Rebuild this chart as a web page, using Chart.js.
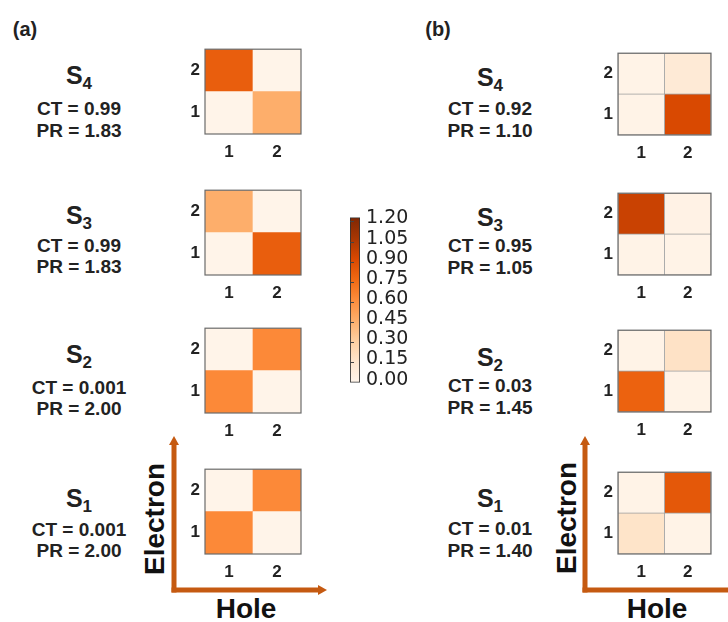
<!DOCTYPE html>
<html>
<head>
<meta charset="utf-8">
<script src="https://cdn.jsdelivr.net/npm/chart.js@4.4.1/dist/chart.umd.min.js"></script>
<style>
  body { margin: 0; background: #fff; }
  #fig { position: relative; width: 728px; height: 622px; overflow: hidden; background: #fff;
         font-family: "Liberation Sans", Arial, sans-serif; color: #222; }
  #fig canvas { position: absolute; }
  .txt { position: absolute; transform: translate(-50%, -50%); white-space: nowrap; font-weight: bold; line-height: 1; }
  .state { font-size: 25px; }
  .state sub { font-size: 17px; vertical-align: -5px; }
  .val { font-size: 19px; }
  .panel { font-size: 20px; }
  .axis { font-size: 28px; color: #111; }
  svg { position: absolute; left: 0; top: 0; }
</style>
</head>
<body>
<div id="fig">
  <svg width="728" height="622" id="arrows"></svg>
</div>
<script>
// categories
const holeLabels = ['1', '2'];
const electronLabels = ['1', '2'];
const stateSubs = ['4', '3', '2', '1']; // top to bottom
const ctA = ['0.99', '0.99', '0.001', '0.001'];
const prA = ['1.83', '1.83', '2.00', '2.00'];
const ctB = ['0.92', '0.95', '0.03', '0.01'];
const prB = ['1.10', '1.05', '1.45', '1.40'];

// weights per state: [electron 1 row, electron 2 row], each row = [hole 1, hole 2]
const heatA = [
  [[0.01, 0.46], [0.82, 0.01]], // S4
  [[0.01, 0.82], [0.46, 0.01]], // S3
  [[0.63, 0.01], [0.01, 0.63]], // S2
  [[0.63, 0.01], [0.01, 0.63]]  // S1
];
const heatB = [
  [[0.02, 0.92], [0.02, 0.11]], // S4
  [[0.02, 0.02], [0.97, 0.03]], // S3
  [[0.80, 0.02], [0.02, 0.18]], // S2
  [[0.17, 0.02], [0.02, 0.85]]  // S1
];

// colour bar
const cbarTicks = [0, 0.15, 0.30, 0.45, 0.60, 0.75, 0.90, 1.05, 1.20];
const cbarMax = 1.23;

// matplotlib "Oranges"
const orangeStops = ['#fff5eb', '#fee6ce', '#fdd0a2', '#fdae6b', '#fd8d3c', '#f16913', '#d94801', '#a63603', '#7f2704'];
function hexRgb(h) { return [1, 3, 5].map(i => parseInt(h.substr(i, 2), 16)); }
function oranges(t) {
  t = Math.max(0, Math.min(1, t));
  const p = t * (orangeStops.length - 1);
  const i = Math.min(orangeStops.length - 2, Math.floor(p));
  const f = p - i;
  const a = hexRgb(orangeStops[i]), b = hexRgb(orangeStops[i + 1]);
  const c = a.map((v, k) => Math.round(v + (b[k] - v) * f));
  return 'rgb(' + c.join(',') + ')';
}

const fig = document.getElementById('fig');

// outline round the chart area
const framePlugin = {
  id: 'frame',
  afterDatasetsDraw(chart) {
    const { ctx, chartArea: a } = chart;
    ctx.save();
    ctx.strokeStyle = '#6b6b6b';
    ctx.lineWidth = 1.2;
    ctx.strokeRect(a.left, a.top, a.right - a.left, a.bottom - a.top);
    ctx.restore();
  }
};

function addCanvas(left, top, w, h) {
  const c = document.createElement('canvas');
  c.width = w; c.height = h;
  c.style.left = left + 'px'; c.style.top = top + 'px';
  c.style.width = w + 'px'; c.style.height = h + 'px';
  fig.appendChild(c);
  return c;
}

function makeHeat(left, top, size, values, lineW) {
  const padL = 30, padT = 4, padR = 4, padB = 30;
  const cv = addCanvas(left - padL, top - padT, padL + size + padR, padT + size + padB);
  new Chart(cv, {
    type: 'bar',
    data: {
      labels: holeLabels,
      datasets: electronLabels.map((e, r) => ({
        label: 'Electron ' + e,
        data: holeLabels.map(() => 1),
        backgroundColor: holeLabels.map((h, c) => oranges(values[r][c] / cbarMax)),
        borderColor: '#a0a0a0',
        borderWidth: lineW,
        borderSkipped: false,
        barPercentage: 1,
        categoryPercentage: 1
      }))
    },
    options: {
      responsive: false,
      animation: false,
      layout: { padding: { top: padT, right: padR, left: 0, bottom: 0 } },
      plugins: { legend: { display: false }, tooltip: { enabled: false } },
      scales: {
        x: {
          stacked: true,
          grid: { display: false, drawTicks: false },
          border: { display: false },
          ticks: { color: '#222', font: { family: 'Liberation Sans', weight: 'bold', size: 17 }, padding: 8 },
          afterFit: s => { s.height = padB; }
        },
        y: {
          stacked: true, min: 0, max: 2,
          grid: { display: false, drawTicks: false },
          border: { display: false },
          afterBuildTicks: s => { s.ticks = [{ value: 0.5 }, { value: 1.5 }]; },
          ticks: {
            color: '#222', font: { family: 'Liberation Sans', weight: 'bold', size: 17 }, padding: 5,
            callback: v => electronLabels[Math.round(v - 0.5)]
          },
          afterFit: s => { s.width = padL; }
        }
      }
    },
    plugins: [framePlugin]
  });
}

function addText(cls, html, x, y) {
  const d = document.createElement('div');
  d.className = 'txt ' + cls;
  d.innerHTML = html;
  d.style.left = x + 'px'; d.style.top = y + 'px';
  fig.appendChild(d);
  return d;
}

// panel (a)
const boxA = { left: 205, size: 96, tops: [38, 179, 317, 458] };
const txtA = { x: 79, s: [77, 217, 356, 500], ct: [108, 245, 387, 529], pr: [130, 266, 408, 550] };
heatA.forEach((v, i) => {
  makeHeat(boxA.left, boxA.tops[i], boxA.size, v, 0);
  addText('state', 'S<sub>' + stateSubs[i] + '</sub>', txtA.x, txtA.s[i]);
  addText('val', 'CT = ' + ctA[i], txtA.x, txtA.ct[i]);
  addText('val', 'PR = ' + prA[i], txtA.x, txtA.pr[i]);
});

// panel (b)
const boxB = { left: 618, size: 93, tops: [42, 182, 319, 461] };
const txtB = { x: 490, s: [79, 219, 359, 500], ct: [108, 245, 385, 528], pr: [130, 267, 407, 550] };
heatB.forEach((v, i) => {
  makeHeat(boxB.left, boxB.tops[i], boxB.size, v, 0.8);
  addText('state', 'S<sub>' + stateSubs[i] + '</sub>', txtB.x, txtB.s[i]);
  addText('val', 'CT = ' + ctB[i], txtB.x, txtB.ct[i]);
  addText('val', 'PR = ' + prB[i], txtB.x, txtB.pr[i]);
});

addText('panel', '(a)', 25, 29);
addText('panel', '(b)', 438, 29);

// colour bar
const cbCanvas = addCanvas(340, 200, 100, 200);
new Chart(cbCanvas, {
  type: 'bar',
  data: {
    labels: ['weight'],
    datasets: [{
      data: [[0, cbarMax]],
      backgroundColor: ctx => {
        const { chart } = ctx;
        const a = chart.chartArea;
        if (!a) return orangeStops[4];
        const y = chart.scales.y;
        const g = chart.ctx.createLinearGradient(0, y.getPixelForValue(0), 0, y.getPixelForValue(cbarMax));
        orangeStops.forEach((c, i) => g.addColorStop(i / (orangeStops.length - 1), c));
        return g;
      },
      borderColor: '#333',
      borderWidth: 1.2,
      borderSkipped: false,
      barPercentage: 1,
      categoryPercentage: 1
    }]
  },
  options: {
    responsive: false,
    animation: false,
    layout: { padding: { left: 10, top: 11, bottom: 17, right: 0 } },
    plugins: { legend: { display: false }, tooltip: { enabled: false } },
    scales: {
      x: { display: false },
      y: {
        position: 'right', min: 0, max: cbarMax,
        grid: { display: false, drawTicks: false },
        border: { display: false },
        afterBuildTicks: s => { s.ticks = cbarTicks.map(v => ({ value: v })); },
        ticks: {
          autoSkip: false,
          color: '#222', font: { family: 'DejaVu Sans', size: 19 }, padding: 6, labelOffset: -3,
          callback: v => v.toFixed(2)
        },
        afterFit: s => { s.width = 80; }
      }
    }
  },
  plugins: [{
    id: 'cbarTicks',
    afterDatasetsDraw(chart) {
      const { ctx, chartArea: a, scales: { y } } = chart;
      ctx.save();
      ctx.strokeStyle = '#444';
      ctx.lineWidth = 1;
      cbarTicks.slice(1).forEach(v => {
        const py = Math.round(y.getPixelForValue(v)) + 0.5;
        ctx.beginPath(); ctx.moveTo(a.left, py); ctx.lineTo(a.left + 4, py); ctx.stroke();
      });
      ctx.restore();
    }
  }]
});

// Electron / Hole axis arrows
const arrowColor = '#c55a11';
const svg = document.getElementById('arrows');
function arrowSet(vx, hy, topTip, rightEnd, tipRight) {
  let s = '';
  s += '<line x1="' + vx + '" y1="' + (hy + 2.5) + '" x2="' + vx + '" y2="' + (topTip + 8) + '" stroke="' + arrowColor + '" stroke-width="5"/>';
  s += '<polygon points="' + vx + ',' + topTip + ' ' + (vx - 5) + ',' + (topTip + 9) + ' ' + (vx + 5) + ',' + (topTip + 9) + '" fill="' + arrowColor + '"/>';
  s += '<line x1="' + (vx - 2.5) + '" y1="' + hy + '" x2="' + (tipRight ? rightEnd - 8 : rightEnd) + '" y2="' + hy + '" stroke="' + arrowColor + '" stroke-width="5"/>';
  if (tipRight) {
    s += '<polygon points="' + rightEnd + ',' + hy + ' ' + (rightEnd - 9) + ',' + (hy - 5) + ' ' + (rightEnd - 9) + ',' + (hy + 5) + '" fill="' + arrowColor + '"/>';
  }
  return s;
}
svg.innerHTML = arrowSet(174, 590, 436, 327, true) + arrowSet(585, 590, 436, 730, false);

const eA = addText('axis', 'Electron', 155, 519); eA.style.transform = 'translate(-50%, -50%) rotate(-90deg)';
const eB = addText('axis', 'Electron', 567, 518); eB.style.transform = 'translate(-50%, -50%) rotate(-90deg)';
addText('axis', 'Hole', 246, 609);
addText('axis', 'Hole', 657, 609);
</script>
</body>
</html>
